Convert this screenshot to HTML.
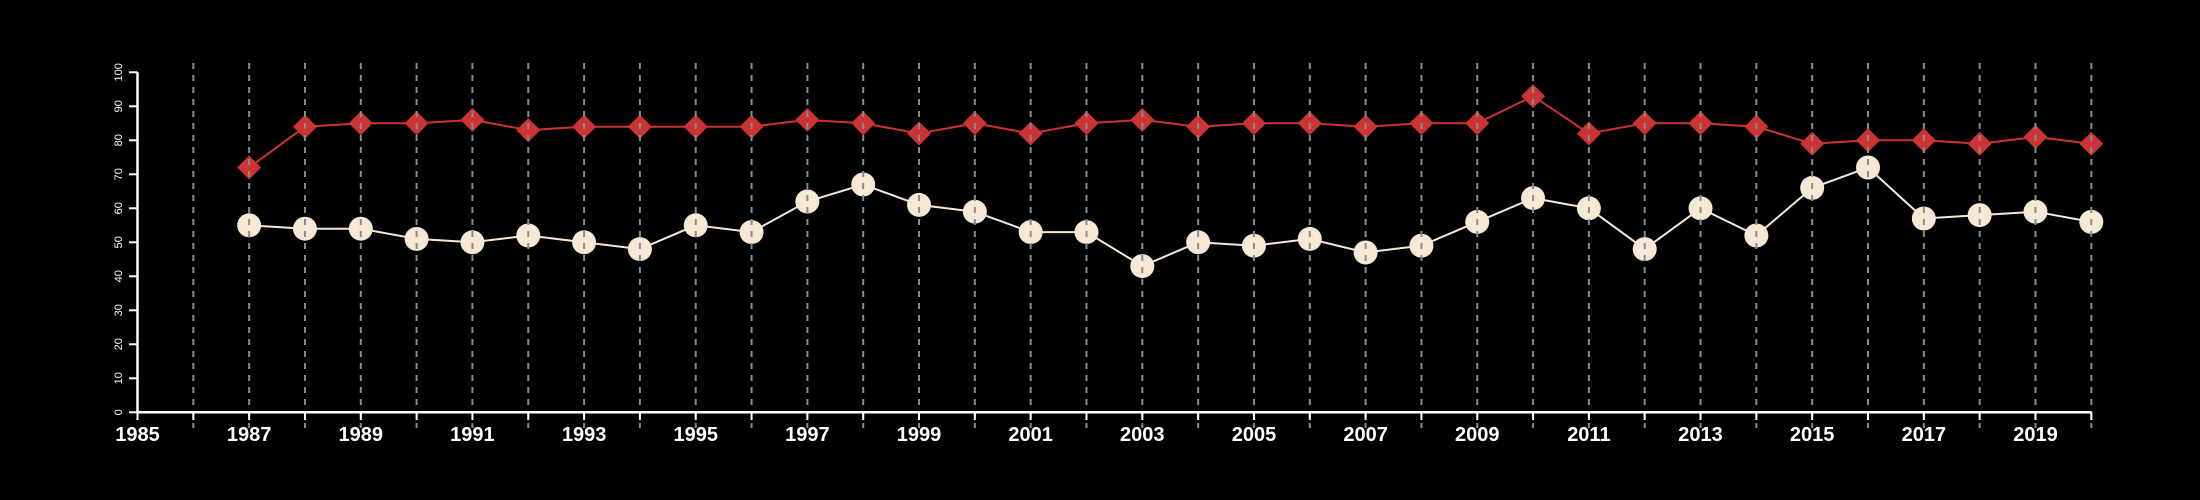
<!DOCTYPE html>
<html><head><meta charset="utf-8"><style>
html,body{margin:0;padding:0;background:#000;}
svg{display:block;font-family:"Liberation Sans",sans-serif;}
</style></head><body>
<svg id="chart" width="2200" height="500" viewBox="0 0 2200 500" xmlns="http://www.w3.org/2000/svg">
<rect width="2200" height="500" fill="#000"/>
</svg>
<script>
const years = [1987,1988,1989,1990,1991,1992,1993,1994,1995,1996,1997,1998,1999,2000,2001,2002,2003,2004,2005,2006,2007,2008,2009,2010,2011,2012,2013,2014,2015,2016,2017,2018,2019,2020];
const redSeries = [72,84,85,85,86,83,84,84,84,84,86,85,82,85,82,85,86,84,85,85,84,85,85,93,82,85,85,84,79,80,80,79,81,79];
const whiteSeries = [55,54,54,51,50,52,50,48,55,53,62,67,61,59,53,53,43,50,49,51,47,49,56,63,60,48,60,52,66,72,57,58,59,56];
const yTicks = [0,10,20,30,40,50,60,70,80,90,100];
const xMin = 1985, xMax = 2020;

const svg = document.getElementById('chart');
const NS = 'http://www.w3.org/2000/svg';
const x = v => 137.5 + (v - xMin) * (2091.3 - 137.5) / (xMax - xMin);
const y = v => 412.3 - v * (412.3 - 72.3) / 100;
function mk(tag, attrs){const e=document.createElementNS(NS,tag);for(const k in attrs)e.setAttribute(k,attrs[k]);svg.appendChild(e);return e;}

// lines
let p1 = years.map((yr,i)=>x(yr)+','+y(redSeries[i])).join(' ');
const redLine = mk('polyline',{points:p1,fill:'none',stroke:'#cc3333','stroke-width':2});


let p2 = years.map((yr,i)=>x(yr)+','+y(whiteSeries[i])).join(' ');
const whiteLine = mk('polyline',{points:p2,fill:'none',stroke:'#f5e8d8','stroke-width':2});



// markers
years.forEach((yr,i)=>{
  const cx=x(yr), cy=y(redSeries[i]), r=12;
  const d = mk('polygon',{points:`${cx},${cy-r} ${cx+r},${cy} ${cx},${cy+r} ${cx-r},${cy}`,fill:'#cc3333'});
  
  
  const c = mk('circle',{cx:cx,cy:y(whiteSeries[i]),r:12,fill:'#f7e8d6'});
  
  
});

// vertical dashed grid lines (drawn on top)
for(let yr=xMin+1; yr<=xMax; yr++){
  const g = mk('line',{x1:x(yr),x2:x(yr),y1:63,y2:428,stroke:'#8a8a8a','stroke-width':2,'stroke-dasharray':'6,6'});
  
  
}

// x axis
const xa = mk('line',{x1:x(xMin),x2:x(xMax),y1:412.3,y2:412.3,stroke:'#fff','stroke-width':2.5});


for(let yr=xMin; yr<=xMax; yr++){
  const t = mk('line',{x1:x(yr),x2:x(yr),y1:412.3,y2:420,stroke:'#fff','stroke-width':2});
  
  
  if((yr-xMin)%2===0){
    const tx = mk('text',{x:x(yr),y:441,fill:'#fff','font-size':20,'font-weight':'bold','text-anchor':'middle'});
    tx.textContent = yr;
    
    
  }
}

// y axis
const ya = mk('line',{x1:137.5,x2:137.5,y1:y(0),y2:y(100),stroke:'#fff','stroke-width':2.5});


yTicks.forEach(v=>{
  const t = mk('line',{x1:129,x2:137.5,y1:y(v),y2:y(v),stroke:'#fff','stroke-width':2});
  
  
  const tx = mk('text',{x:0,y:0,fill:'#fff','font-size':11,'text-anchor':'middle',transform:`translate(122,${y(v)}) rotate(-90)`});
  tx.textContent = v;
  
  
});
</script>
</body></html>
